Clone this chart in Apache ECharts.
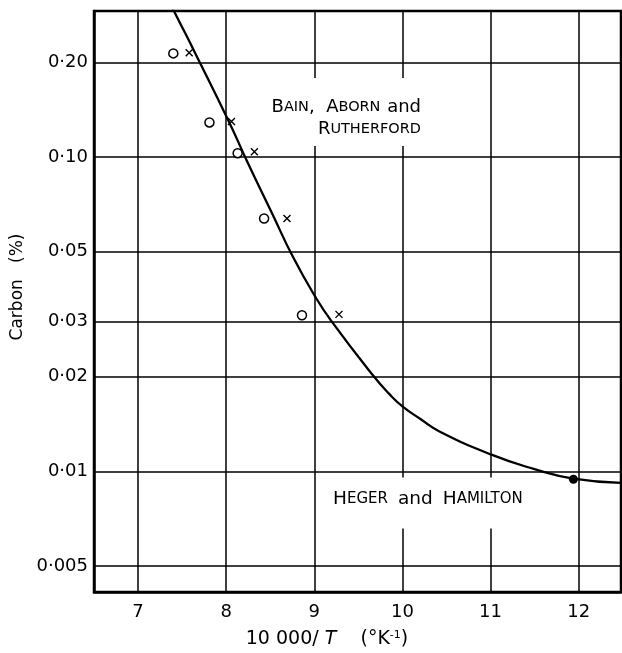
<!DOCTYPE html>
<html>
<head>
<meta charset="utf-8">
<script src="https://cdn.jsdelivr.net/npm/echarts@6/dist/echarts.min.js"></script>
<style>html,body{margin:0;padding:0;background:#fff}#c{width:622px;height:653px}</style>
</head>
<body>
<div id="c"></div>
<script>
// ---- data ----
const xTicks = [7, 8, 9, 10, 11, 12];
const yTicks = [0.005, 0.01, 0.02, 0.03, 0.05, 0.1, 0.2];
const yTickLabels = ['0·005', '0·01', '0·02', '0·03', '0·05', '0·10', '0·20'];

const curveX = [7.36, 7.46, 7.65, 8.03, 8.23, 8.52, 8.76, 9.01, 9.19, 9.66, 9.85, 10.0, 10.2, 10.42, 11.01, 11.48, 11.94, 12.48];
const curveY = [0.310, 0.273, 0.214, 0.130, 0.098, 0.0663, 0.0480, 0.0360, 0.0302, 0.0203, 0.01764, 0.0161, 0.0147, 0.0134, 0.0113, 0.0102, 0.00948, 0.00919];

const circleX = [7.40, 7.81, 8.13, 8.43, 8.86];
const circleY = [0.214, 0.129, 0.103, 0.0638, 0.0314];

const crossX = [7.58, 8.06, 8.32, 8.69, 9.28];
const crossY = [0.215, 0.130, 0.104, 0.0638, 0.0316];

const dotX = [11.94];
const dotY = [0.00944];

const zip = (a, b) => a.map((v, i) => [v, b[i]]);

const FONT = '"DejaVu Sans", sans-serif';
const chart = echarts.init(document.getElementById('c'));
chart.setOption({
  animation: false,
  backgroundColor: '#fff',
  grid: { left: 94, right: 1, top: 11, bottom: 61, show: true, borderColor: '#000', borderWidth: 2.5, backgroundColor: 'transparent' },
  xAxis: {
    type: 'value', min: 6.5, max: 12.48,
    axisLine: { show: true, lineStyle: { color: '#000', width: 2.5 } },
    axisTick: { show: false, customValues: xTicks },
    axisLabel: { customValues: xTicks, color: '#000', fontFamily: FONT, fontSize: 18, margin: 11 },
    splitLine: { show: true, lineStyle: { color: '#000', width: 1.5 } }
  },
  yAxis: {
    type: 'log', min: 0.00413, max: 0.292,
    axisLine: { show: true, lineStyle: { color: '#000', width: 2.5 } },
    axisTick: { show: false, customValues: yTicks },
    axisLabel: {
      customValues: yTicks, color: '#000', fontFamily: FONT, fontSize: 18, margin: 6,
      formatter: v => { const i = yTicks.findIndex(t => Math.abs(t - v) / t < 1e-6); return i >= 0 ? yTickLabels[i] : ''; }
    },
    splitLine: { show: true, lineStyle: { color: '#000', width: 1.5 } }
  },
  series: [
    { type: 'line', data: zip(curveX, curveY), smooth: 0.5, showSymbol: false, lineStyle: { color: '#000', width: 2.3 }, clip: true, z: 3 },
    { type: 'scatter', data: zip(circleX, circleY), symbol: 'circle', symbolSize: 9, itemStyle: { color: '#fff', borderColor: '#000', borderWidth: 1.5, opacity: 1 }, z: 4 },
    { type: 'scatter', data: zip(crossX, crossY), symbol: 'path://M0,0L10,10M10,0L0,10', symbolSize: 7, itemStyle: { color: 'none', borderColor: '#000', borderWidth: 1.4, opacity: 1 }, z: 4 },
    { type: 'scatter', data: zip(dotX, dotY), symbol: 'circle', symbolSize: 9, itemStyle: { color: '#000', opacity: 1 }, z: 5 }
  ],
  graphic: [
    {
      type: 'text', x: 429, y: 112, z: 10,
      style: {
        text: '{B|B}{s|AIN}{B|,  A}{s|BORN}  {l|and}\n{B|R}{s|UTHERFORD}',
        align: 'right', verticalAlign: 'middle',
        backgroundColor: '#fff', padding: [18, 8, 6, 8],
        rich: {
          B: { fontFamily: FONT, fontSize: 18, fill: '#000', lineHeight: 22 },
          s: { fontFamily: FONT, fontSize: 14.5, fill: '#000', lineHeight: 22 },
          l: { fontFamily: FONT, fontSize: 18, fill: '#000', lineHeight: 22 }
        }
      }
    },
    {
      type: 'text', x: 325, y: 503, z: 10,
      style: {
        text: '{B|H}{s|EGER}   {l|and}   {B|H}{s|AMILTON}',
        align: 'left', verticalAlign: 'middle',
        backgroundColor: '#fff', padding: [12, 10, 20, 8],
        rich: {
          B: { fontFamily: FONT, fontSize: 18.5, fill: '#000' },
          s: { fontFamily: FONT, fontSize: 15, fill: '#000' },
          l: { fontFamily: FONT, fontSize: 18.5, fill: '#000' }
        }
      }
    },
    {
      type: 'text', x: 327, y: 639, z: 10,
      style: {
        text: '10 000/ {i|T}    (°K{sup|-1})',
        align: 'center', verticalAlign: 'middle',
        fontFamily: FONT, fontSize: 19, fill: '#000',
        rich: {
          i: { fontFamily: FONT, fontSize: 19, fontStyle: 'italic', fill: '#000' },
          sup: { fontFamily: FONT, fontSize: 11, fill: '#000', verticalAlign: 'top', padding: [0, 0, 8, 0] }
        }
      }
    },
    {
      type: 'text', x: 18, y: 287, rotation: Math.PI / 2, z: 10,
      style: {
        text: 'Carbon   (%)', align: 'center', verticalAlign: 'middle',
        fontFamily: FONT, fontSize: 17, fill: '#000'
      }
    }
  ]
});
</script>
</body>
</html>
